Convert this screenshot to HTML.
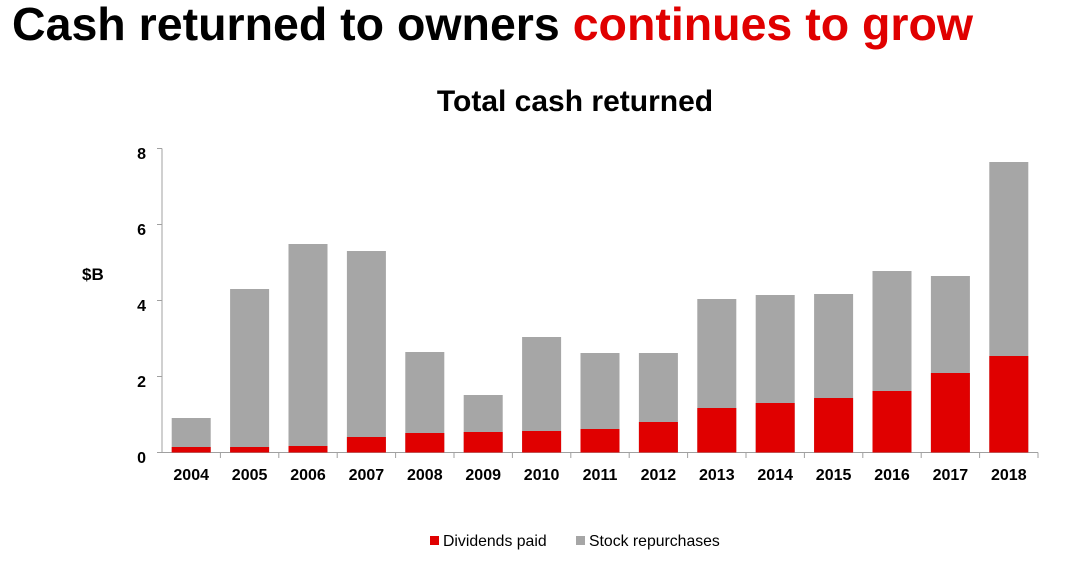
<!DOCTYPE html>
<html><head><meta charset="utf-8"><style>
body{margin:0;width:1086px;height:565px;background:#fff;overflow:hidden;font-family:"Liberation Sans",sans-serif}
</style></head><body>
<svg width="1086" height="565" xmlns="http://www.w3.org/2000/svg" font-family="Liberation Sans, sans-serif">
<text x="12" y="40" font-size="46.5" font-weight="bold" fill="#000">Cash returned to owners <tspan fill="#e00000">continues to grow</tspan></text>
<text x="575" y="111" font-size="30" font-weight="bold" text-anchor="middle">Total cash returned</text>
<text x="82" y="280" font-size="17" font-weight="bold">$B</text>
<g font-size="16" font-weight="bold" text-anchor="end">
<text x="146" y="159">8</text><text x="146" y="235">6</text><text x="146" y="311">4</text><text x="146" y="387">2</text><text x="146" y="463">0</text>
</g>
<g stroke="#a0a0a0" stroke-width="1">
<line x1="162" y1="148.5" x2="162" y2="453"/>
<line x1="157" y1="148.5" x2="162" y2="148.5"/><line x1="157" y1="224.5" x2="162" y2="224.5"/><line x1="157" y1="300.5" x2="162" y2="300.5"/><line x1="157" y1="376.5" x2="162" y2="376.5"/>
<line x1="157" y1="452.5" x2="1038" y2="452.5"/>
</g>
<g id="bars"></g>
<g id="labs" font-size="16" font-weight="bold" text-anchor="middle"></g>
<g id="ticks" stroke="#a0a0a0"></g>
<rect x="430" y="536" width="9" height="9" fill="#e00000"/>
<text x="443" y="546" font-size="15.8">Dividends paid</text>
<rect x="576" y="536" width="9" height="9" fill="#a6a6a6"/>
<text x="589" y="546" font-size="15.8">Stock repurchases</text>
</svg>
<script>
var tops=[418,289,244,251,352,395,337,353,353,299,295,294,271,276,162];
var reds=[447,447,446,437,433,432,431,429,422,408,403,398,391,373,356];
var ns="http://www.w3.org/2000/svg",b=document.getElementById('bars'),l=document.getElementById('labs'),t=document.getElementById('ticks');
for(var i=0;i<15;i++){var x0=162+i*58.4,c=x0+29.2;
function r(y,h,f){var e=document.createElementNS(ns,'rect');e.setAttribute('x',c-19.5);e.setAttribute('width',39);e.setAttribute('y',y);e.setAttribute('height',h);e.setAttribute('fill',f);b.appendChild(e);}
r(tops[i],452.5-tops[i],'#a6a6a6');r(reds[i],452.5-reds[i],'#e00000');
var tx=document.createElementNS(ns,'text');tx.setAttribute('x',c);tx.setAttribute('y',480);tx.textContent=2004+i;l.appendChild(tx);
var ln=document.createElementNS(ns,'line');ln.setAttribute('x1',x0+58.4);ln.setAttribute('x2',x0+58.4);ln.setAttribute('y1',452.5);ln.setAttribute('y2',458);t.appendChild(ln);}
</script>
</body></html>
